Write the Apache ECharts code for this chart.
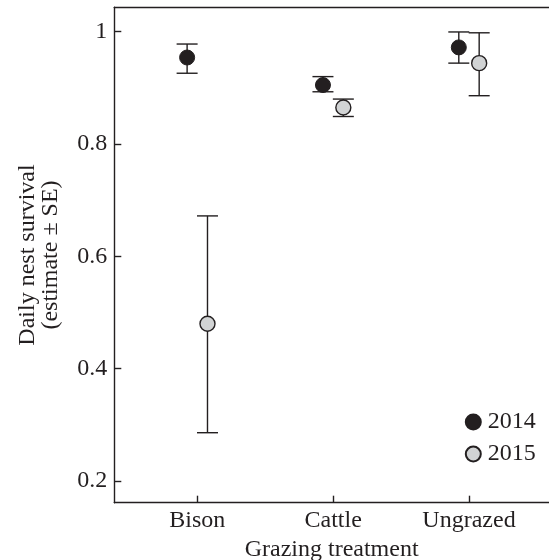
<!DOCTYPE html>
<html>
<head>
<meta charset="utf-8">
<script src="https://cdn.jsdelivr.net/npm/echarts@6/dist/echarts.min.js"></script>
<style>
html, body { margin: 0; padding: 0; background: #fff; }
#chart { width: 549px; height: 560px; }
</style>
</head>
<body>
<div id="chart"></div>
<script>
// grazing treatments and tick labels
var categories = ['Bison', 'Cattle', 'Ungrazed'];
var yTicks = [0.2, 0.4, 0.6, 0.8, 1];

// daily nest survival estimates with +/- SE bounds
var est2014 = [0.954, 0.905, 0.972];
var low2014 = [0.926, 0.893, 0.944];
var high2014 = [0.978, 0.920, 0.9995];

var est2015 = [0.480, 0.865, 0.944];
var low2015 = [0.286, 0.849, 0.886];
var high2015 = [0.672, 0.880, 0.998];

var ink = '#231f20';
var fontFam = '"Liberation Serif", "DejaVu Serif", serif';
var fs = 24;
var shift = 0.075; // dodge between years

function points(est, dx) {
    return est.map(function (v, i) { return [i + 1 + dx, v]; });
}
function bars(low, high, dx) {
    return low.map(function (v, i) { return [i + 1 + dx, v, high[i]]; });
}

function errorBar(params, api) {
    var x = api.value(0);
    var lo = api.coord([x, api.value(1)]);
    var hi = api.coord([x, api.value(2)]);
    var half = 10.5;
    var style = { stroke: ink, lineWidth: 1.4 };
    return {
        type: 'group',
        children: [
            { type: 'line', shape: { x1: lo[0], y1: lo[1], x2: hi[0], y2: hi[1] }, style: style },
            { type: 'line', shape: { x1: lo[0] - half, y1: lo[1], x2: lo[0] + half, y2: lo[1] }, style: style },
            { type: 'line', shape: { x1: hi[0] - half, y1: hi[1], x2: hi[0] + half, y2: hi[1] }, style: style }
        ]
    };
}

var chart = echarts.init(document.getElementById('chart'));

var option = {
    animation: false,
    backgroundColor: '#fff',
    textStyle: { fontFamily: fontFam, color: ink },
    grid: {
        left: 114.3,
        right: 0,
        top: 7.3,
        bottom: 57.3,
        containLabel: false,
        outerBoundsMode: 'none'
    },
    legend: {
        data: ['2014', '2015'],
        orient: 'vertical',
        left: 464.8,
        top: 410,
        icon: 'circle',
        itemWidth: 15,
        itemHeight: 15,
        itemGap: 8,
        textStyle: { fontFamily: fontFam, fontSize: fs, color: ink, padding: [0, 0, 0, 2] },
        padding: 0
    },
    xAxis: [{
        type: 'value',
        min: 0.389,
        max: 3.589,
        name: 'Grazing treatment',
        nameLocation: 'middle',
        nameGap: 30,
        nameTextStyle: { fontFamily: fontFam, fontSize: fs, color: ink },
        splitLine: { show: false },
        axisLine: { show: true, lineStyle: { color: ink, width: 1.4 } },
        axisTick: { show: true, inside: true, length: 7, customValues: [1, 2, 3], lineStyle: { color: ink, width: 1.4 } },
        axisLabel: {
            customValues: [1, 2, 3],
            margin: 6,
            fontFamily: fontFam,
            fontSize: fs,
            color: ink,
            formatter: function (v) { return categories[Math.round(v) - 1]; }
        }
    }, {
        type: 'value',
        position: 'top',
        min: 0.389,
        max: 3.589,
        splitLine: { show: false },
        axisLine: { show: true, lineStyle: { color: ink, width: 1.4 } },
        axisTick: { show: false },
        axisLabel: { show: false }
    }],
    yAxis: {
        type: 'value',
        min: 0.1614,
        max: 1.0434,
        name: 'Daily nest survival\n(estimate ± SE)',
        nameLocation: 'middle',
        nameGap: 52,
        nameTextStyle: { fontFamily: fontFam, fontSize: fs, color: ink, lineHeight: 23 },
        splitLine: { show: false },
        axisLine: { show: true, lineStyle: { color: ink, width: 1.4 } },
        axisTick: { show: true, inside: true, length: 7, customValues: yTicks, lineStyle: { color: ink, width: 1.4 } },
        axisLabel: {
            customValues: yTicks,
            margin: 7,
            fontFamily: fontFam,
            fontSize: fs,
            color: ink
        }
    },
    series: [
        {
            name: 'err2014',
            type: 'custom',
            renderItem: errorBar,
            data: bars(low2014, high2014, -shift),
            z: 1
        },
        {
            name: 'err2015',
            type: 'custom',
            renderItem: errorBar,
            data: bars(low2015, high2015, shift),
            z: 1
        },
        {
            name: '2014',
            type: 'scatter',
            symbol: 'circle',
            symbolSize: 15,
            itemStyle: { color: ink, borderColor: ink, borderWidth: 1, opacity: 1 },
            data: points(est2014, -shift),
            z: 3
        },
        {
            name: '2015',
            type: 'scatter',
            symbol: 'circle',
            symbolSize: 15,
            itemStyle: { color: '#d1d3d4', borderColor: ink, borderWidth: 1.4, opacity: 1 },
            data: points(est2015, shift),
            z: 3
        }
    ]
};

chart.setOption(option);
</script>
</body>
</html>
